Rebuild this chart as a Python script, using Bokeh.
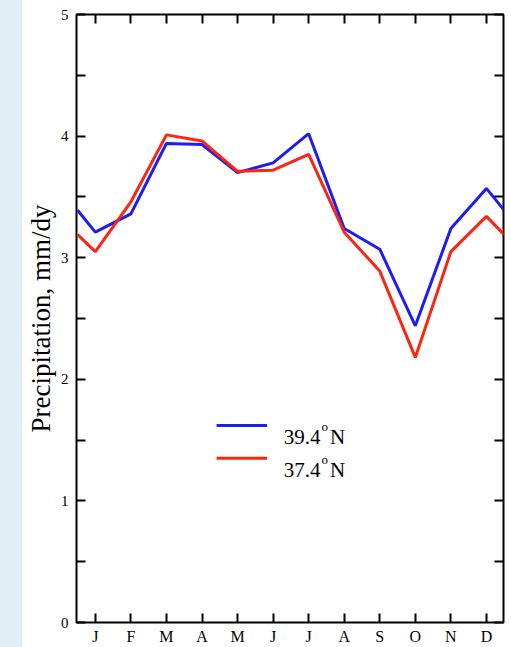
from bokeh.plotting import figure
from bokeh.models import (Range1d, FixedTicker, LinearAxis, Label, Spacer)
from bokeh.layouts import row
from bokeh.embed import file_html
from bokeh.resources import INLINE

# Monthly precipitation climatology (mm/day); the end points are the
# Dec/Jan wrap-around values so the curves span the full year.
month_labels = ["J", "F", "M", "A", "M", "J", "J", "A", "S", "O", "N", "D"]
month_pos = [1, 2, 3, 4, 5, 6, 7, 8, 9, 10, 11, 12]
x_vals = [0.5, 1, 2, 3, 4, 5, 6, 7, 8, 9, 10, 11, 12, 12.5]
precip_394 = [3.39, 3.21, 3.36, 3.94, 3.93, 3.70, 3.78, 4.02, 3.24, 3.07, 2.44, 3.24, 3.57, 3.39]
precip_374 = [3.19, 3.05, 3.46, 4.01, 3.96, 3.71, 3.72, 3.85, 3.21, 2.89, 2.18, 3.05, 3.34, 3.19]
series_names = ["39.4", "37.4"]
y_major = [0, 1, 2, 3, 4, 5]
y_minor = [0.5, 1.5, 2.5, 3.5, 4.5]

BLUE = "#1c1cf5"
RED = "#ff2412"
SERIF = "Liberation Serif"

p = figure(width=489, height=647, output_backend="svg", toolbar_location=None,
           x_range=Range1d(0.47, 12.48), y_range=Range1d(0, 5),
           min_border_left=51, min_border_right=8, min_border_top=14,
           min_border_bottom=25, x_axis_location=None, y_axis_location=None)
p.background_fill_color = "white"
p.border_fill_color = "white"
p.outline_line_color = "black"
p.outline_line_width = 2
p.xgrid.visible = False
p.ygrid.visible = False


def style_axis(ax):
    # inward ticks only, same length for major and minor
    ax.axis_line_color = None
    ax.major_tick_in = 9
    ax.major_tick_out = 0
    ax.minor_tick_in = 9
    ax.minor_tick_out = 0
    ax.major_tick_line_color = "black"
    ax.minor_tick_line_color = "black"
    ax.major_tick_line_width = 2
    ax.minor_tick_line_width = 2
    ax.major_label_text_color = "black"
    ax.major_label_text_font = SERIF


left = LinearAxis(ticker=FixedTicker(ticks=y_major, minor_ticks=y_minor))
style_axis(left)
left.major_label_text_font_size = "15px"
left.major_label_standoff = 8
left.axis_label = "Precipitation, mm/dy"
left.axis_label_text_font = SERIF
left.axis_label_text_font_size = "27px"
left.axis_label_text_font_style = "normal"
left.axis_label_text_color = "black"
left.axis_label_standoff = 2
p.add_layout(left, "left")

# right and top edges carry ticks only (no labels)
right = LinearAxis(ticker=FixedTicker(ticks=[], minor_ticks=y_major + y_minor))
style_axis(right)
right.major_label_standoff = 0
p.add_layout(right, "right")

bottom = LinearAxis(ticker=FixedTicker(ticks=month_pos),
                    major_label_overrides={m: lab for m, lab in zip(month_pos, month_labels)})
style_axis(bottom)
bottom.major_label_text_font_size = "16px"
bottom.major_label_standoff = 5
p.add_layout(bottom, "below")

top = LinearAxis(ticker=FixedTicker(ticks=[], minor_ticks=month_pos))
style_axis(top)
top.major_label_standoff = 0
p.add_layout(top, "above")

p.line(x_vals, precip_394, line_color=BLUE, line_width=3)
p.line(x_vals, precip_374, line_color=RED, line_width=3)

# Hand-built key: short line sample followed by latitude text with a raised "o"
key_rows = [(1.62, BLUE, series_names[0]), (1.35, RED, series_names[1])]
for ky, col, name in key_rows:
    p.line([4.41, 5.83], [ky, ky], line_color=col, line_width=3)
    p.add_layout(Label(x=6.30, y=ky - 0.095, text=name, text_font=SERIF,
                       text_font_size="21px", text_baseline="alphabetic",
                       text_color="black"))
    p.add_layout(Label(x=7.36, y=ky - 0.012, text="o", text_font=SERIF,
                       text_font_size="13px", text_baseline="alphabetic",
                       text_color="black"))
    p.add_layout(Label(x=7.60, y=ky - 0.095, text="N", text_font=SERIF,
                       text_font_size="21px", text_baseline="alphabetic",
                       text_color="black"))

strip = Spacer(width=22, height=647, styles={"background-color": "#e0eff6"})
layout = row(strip, p, spacing=0)

open("out.html", "w").write(file_html(layout, INLINE))
